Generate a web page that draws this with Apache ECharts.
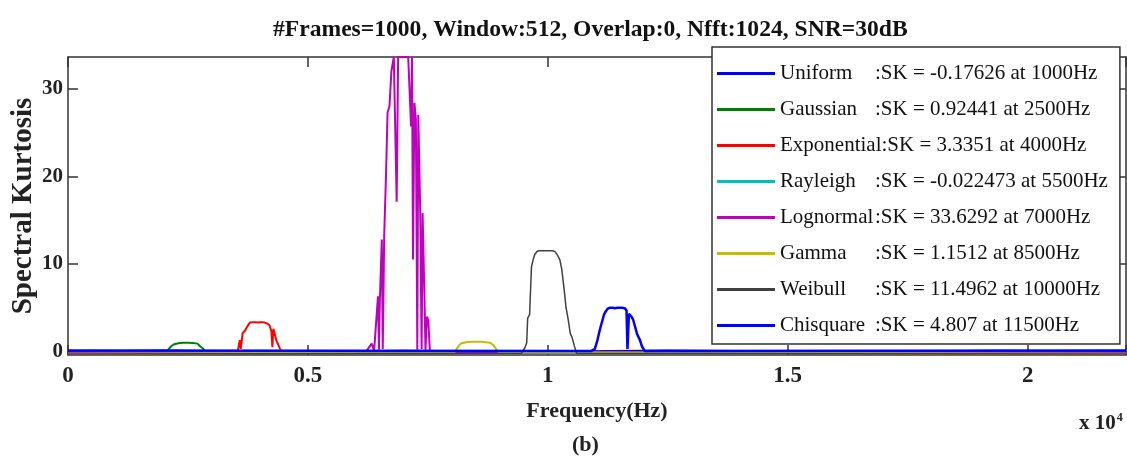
<!DOCTYPE html>
<html><head><meta charset="utf-8">
<script src="https://cdn.jsdelivr.net/npm/echarts@6/dist/echarts.min.js"></script>
<style>html,body{margin:0;padding:0;background:#fff}#c{width:1127px;height:464px}</style>
</head><body><div id="c"></div>
<script>
// ---- data ----
const titleText = '#Frames=1000, Window:512, Overlap:0, Nfft:1024, SNR=30dB';
const seriesNames = ['Uniform', 'Gaussian', 'Exponential', 'Rayleigh', 'Lognormal', 'Gamma', 'Weibull', 'Chisquare'];
const skValues = ['-0.17626', '0.92441', '3.3351', '-0.022473', '33.6292', '1.1512', '11.4962', '4.807'];
const skFreqs = [1000, 2500, 4000, 5500, 7000, 8500, 10000, 11500];
const xTickLabels = ['0', '0.5', '1', '1.5', '2'];
const yTickValues = [0, 10, 20, 30];

// [frequency Hz, spectral kurtosis]
const uniformPts = [[0,-0.1],[2000,0.05],[4500,-0.12],[7000,0.04],[9500,-0.1],[12500,0.06],[16000,-0.08],[19500,0.03],[22050,-0.06]];
const gaussianPts = [[0,-0.2],[2050,-0.05],[2100,0.3],[2150,0.6],[2200,0.8],[2300,0.95],[2400,1.0],[2500,1.0],[2600,0.98],[2700,0.9],[2750,0.6],[2800,0.4],[2850,0.1],[2900,-0.05],[22050,-0.2]];
const exponentialPts = [[0,-0.2],[3450,-0.1],[3540,0.1],[3580,1.3],[3600,0.3],[3640,2.1],[3690,2.4],[3730,2.8],[3790,3.3],[3850,3.35],[3900,3.35],[3950,3.3],[4000,3.34],[4050,3.35],[4100,3.3],[4150,3.2],[4200,3.0],[4240,2.3],[4260,0.5],[4280,2.6],[4310,2.0],[4340,1.3],[4370,1.1],[4420,0.3],[4460,-0.1],[22050,-0.2]];
const rayleighPts = [[0,-0.15],[5500,-0.02],[11000,-0.18],[16500,-0.1],[22050,-0.15]];
const lognormalPts = [[0,-0.15],[6200,-0.1],[6330,0.9],[6380,0.1],[6460,6.3],[6480,0.2],[6500,6.0],[6540,12.8],[6560,0.3],[6590,13.2],[6630,20.6],[6660,27.3],[6700,28.0],[6740,32.0],[6790,33.63],[6830,33.63],[6850,17.1],[6880,33.63],[6920,33.63],[6960,33.63],[7000,33.63],[7040,33.63],[7090,33.63],[7130,33.63],[7150,25.7],[7170,33.63],[7190,10.5],[7220,28.4],[7250,26.5],[7280,0.2],[7300,27.0],[7340,16.3],[7370,0.3],[7390,15.8],[7430,5.9],[7450,0.2],[7480,4.0],[7510,3.5],[7540,0.2],[7580,-0.1],[22050,-0.15]];
const gammaPts = [[0,-0.25],[8050,-0.1],[8100,0.3],[8150,0.7],[8200,0.95],[8300,1.05],[8400,1.1],[8500,1.1],[8600,1.1],[8700,1.05],[8800,1.0],[8870,0.7],[8920,0.3],[8980,-0.1],[22050,-0.25]];
const weibullPts = [[0,-0.3],[9450,-0.2],[9520,0.4],[9560,1.0],[9580,3.8],[9620,4.2],[9660,9.7],[9700,10.6],[9730,11.1],[9780,11.45],[9830,11.5],[9900,11.5],[9950,11.5],[10000,11.4962],[10050,11.5],[10100,11.5],[10150,11.4],[10200,11.0],[10250,10.5],[10290,9.4],[10340,7.1],[10380,5.0],[10420,3.8],[10470,2.0],[10500,1.7],[10560,0.5],[10600,-0.2],[22050,-0.3]];
const chisquarePts = [[0,0.1],[10900,0.05],[10980,0.3],[11030,1.2],[11080,2.4],[11120,2.6],[11170,4.2],[11210,4.6],[11250,4.9],[11300,5.0],[11350,5.0],[11400,4.95],[11450,5.0],[11500,5.0],[11550,5.0],[11600,4.95],[11640,4.7],[11660,0.3],[11690,4.3],[11740,4.0],[11780,3.6],[11820,2.8],[11860,2.0],[11920,1.3],[11960,0.6],[12020,0.05],[22050,0.1]];

const seriesData = [uniformPts, gaussianPts, exponentialPts, rayleighPts, lognormalPts, gammaPts, weibullPts, chisquarePts];

// ---- styles ----
const seriesColors = ['#0000ff', '#008000', '#ff0000', '#00c0c0', '#bf00bf', '#bfbf00', '#404040', '#0000ff'];
const seriesWidths = [3, 2, 2, 2, 2, 2, 1.5, 2.5];
const FONT = 'Liberation Serif';
const AX = '#333';

const chart = echarts.init(document.getElementById('c'), null, {renderer: 'canvas'});

const legendText = {};
seriesNames.forEach((n, i) => {
  const tag = n.length > 10 ? 'e' : 'n';
  legendText[n] = '{' + tag + '|' + n + '}{s|:SK = ' + skValues[i] + ' at ' + skFreqs[i] + 'Hz}';
});

const txt = {fontFamily: FONT, fontSize: 21, color: '#111', lineHeight: 20};

const option = {
  animation: false,
  backgroundColor: '#fff',
  title: {
    text: titleText, left: 268, top: 13,
    textStyle: {fontFamily: FONT, fontSize: 23.6, fontWeight: 'bold', color: '#111'}
  },
  grid: {left: 68, right: 1, top: 57, bottom: 109, containLabel: false, outerBoundsMode: 'none'},
  legend: {
    orient: 'vertical', left: 712, top: 47, z: 10,
    padding: [16, 12, 8, 5], itemGap: 15, itemWidth: 58, itemHeight: 3, icon: 'rect',
    backgroundColor: '#fff', borderColor: AX, borderWidth: 1.5, borderRadius: 0,
    selectedMode: false,
    data: seriesNames,
    formatter: n => legendText[n],
    textStyle: Object.assign({}, txt, {
      rich: {
        n: Object.assign({}, txt, {width: 95}),
        e: Object.assign({}, txt),
        s: Object.assign({}, txt)
      }
    })
  },
  xAxis: [{
    type: 'value', min: 0, max: 22050, interval: 5000, position: 'bottom',
    axisLine: {show: true, onZero: false, lineStyle: {color: AX, width: 1.5}},
    axisTick: {show: true, inside: true, length: 10, lineStyle: {color: AX, width: 1.5}},
    axisLabel: {
      formatter: v => (v % 5000 === 0 && xTickLabels[v / 5000] !== undefined) ? xTickLabels[v / 5000] : '',
      fontFamily: FONT, fontSize: 23, fontWeight: 'bold', color: '#222', margin: 10
    },
    splitLine: {show: false},
    name: 'Frequency(Hz)', nameLocation: 'middle', nameGap: 45, nameMoveOverlap: false,
    nameTextStyle: {fontFamily: FONT, fontSize: 22, fontWeight: 'bold', color: '#222'}
  }, {
    type: 'value', min: 0, max: 22050, interval: 5000, position: 'top',
    axisLine: {show: true, onZero: false, lineStyle: {color: AX, width: 1.5}},
    axisTick: {show: true, inside: true, length: 10, lineStyle: {color: AX, width: 1.5}},
    axisLabel: {show: false}, splitLine: {show: false}
  }],
  yAxis: [{
    type: 'value', min: -0.4, max: 33.63, position: 'left',
    axisLine: {show: true, onZero: false, lineStyle: {color: AX, width: 1.5}},
    axisTick: {show: true, inside: true, length: 10, customValues: yTickValues, lineStyle: {color: AX, width: 1.5}},
    axisLabel: {customValues: yTickValues, fontFamily: FONT, fontSize: 21, fontWeight: 'bold', color: '#222', margin: 5},
    splitLine: {show: false},
    name: 'Spectral Kurtosis', nameLocation: 'middle', nameGap: 30, nameMoveOverlap: false,
    nameTextStyle: {fontFamily: FONT, fontSize: 29, fontWeight: 'bold', color: '#222'}
  }, {
    type: 'value', min: -0.4, max: 33.63, position: 'right',
    axisLine: {show: true, onZero: false, lineStyle: {color: AX, width: 1.5}},
    axisTick: {show: true, inside: true, length: 10, customValues: yTickValues, lineStyle: {color: AX, width: 1.5}},
    axisLabel: {show: false}, splitLine: {show: false}
  }],
  graphic: [{
    type: 'text', left: 1079, top: 412,
    style: {
      text: '{a|x 10}{b|4}',
      rich: {
        a: {fontFamily: FONT, fontSize: 21, fontWeight: 'bold', fill: '#222', verticalAlign: 'bottom'},
        b: {fontFamily: FONT, fontSize: 12, fontWeight: 'bold', fill: '#222', verticalAlign: 'top', padding: [0, 0, 10, 1]}
      }
    }
  }, {
    type: 'text', left: 572, top: 434,
    style: {text: '(b)', fontFamily: FONT, fontSize: 22, fontWeight: 'bold', fill: '#222'}
  }],
  series: seriesNames.map((n, i) => ({
    name: n, type: 'line', xAxisIndex: 0, yAxisIndex: 0,
    data: seriesData[i], showSymbol: false, symbol: 'none', clip: true,
    lineStyle: {color: seriesColors[i], width: seriesWidths[i]},
    itemStyle: {color: seriesColors[i]},
    emphasis: {disabled: true}, z: 2 + i
  }))
};
chart.setOption(option);
</script>
</body></html>
